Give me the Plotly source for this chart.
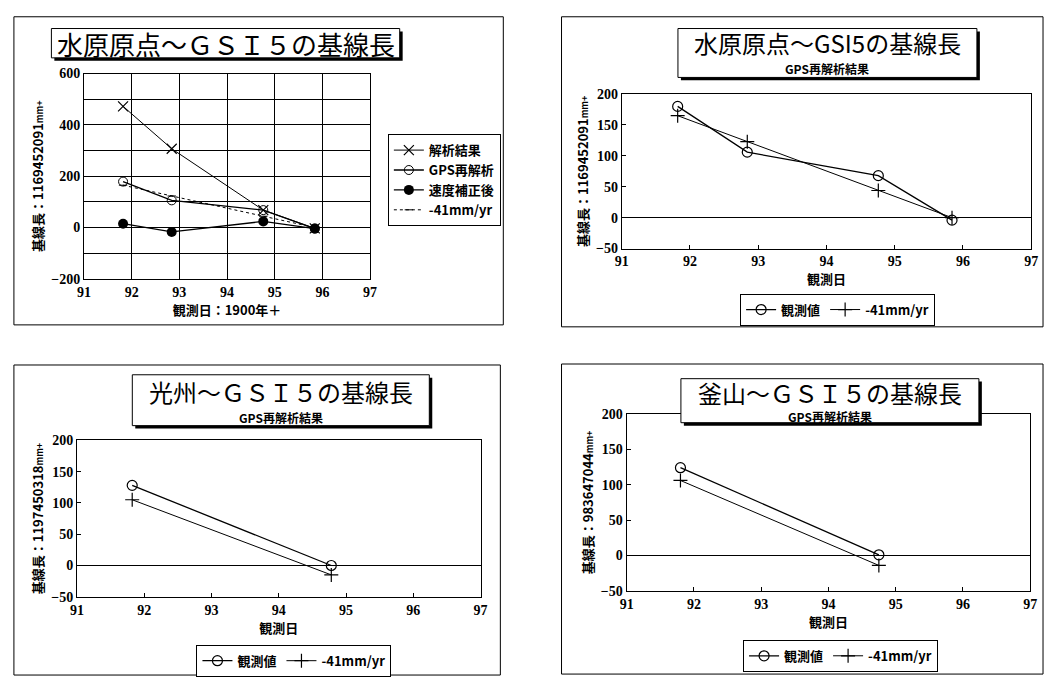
import plotly.graph_objects as go

W, H = 1052, 685

# ---------------- data ----------------
years_p1 = [91.82, 92.84, 94.76, 95.84]
analysis_p1 = [472, 307, 68, -3]
gps_p1 = [179, 106, 68, -4]
corrected_p1 = [15, -17, 24, -4]
trend_p1 = [165, 123, 44, 0]

years_p2 = [91.82, 92.84, 94.76, 95.84]
obs_p2 = [180, 106, 68, -4]
trend_p2 = [165, 123, 44, 0]

years_p3 = [91.82, 94.78]
obs_p3 = [128, 0]
trend_p3 = [105, -15]

years_p4 = [91.80, 94.75]
obs_p4 = [124, 1]
trend_p4 = [106, -14]

titles = ["水原原点～ＧＳＩ５の基線長", "水原原点～GSI5の基線長",
          "光州～ＧＳＩ５の基線長", "釜山～ＧＳＩ５の基線長"]
subtitle = "GPS再解析結果"
ytitles = ["基線長：1169452091<span style='font-size:9px'>mm+</span>",
           "基線長：1169452091<span style='font-size:9px'>mm+</span>",
           "基線長：1197450318<span style='font-size:9px'>mm+</span>",
           "基線長：983647044<span style='font-size:9px'>mm+</span>"]
xtitles = ["観測日：1900年＋", "観測日", "観測日", "観測日"]

# ---------------- helpers ----------------
def px(x):
    return x / W

def py(y):
    return 1 - y / H

JP = "Noto Sans CJK JP"
NUM = "Liberation Serif, DejaVu Serif, serif"
BLACK = "black"

fig = go.Figure()

# Panel 1 traces
fig.add_trace(go.Scatter(x=years_p1, y=analysis_p1, name="解析結果", mode="lines+markers",
                         line=dict(color=BLACK, width=1),
                         marker=dict(symbol="x-thin-open", size=10, color=BLACK, line=dict(width=1.2, color=BLACK)),
                         xaxis="x", yaxis="y", legend="legend"))
fig.add_trace(go.Scatter(x=years_p1, y=gps_p1, name="GPS再解析", mode="lines+markers",
                         line=dict(color=BLACK, width=1.3),
                         marker=dict(symbol="circle-open", size=9, color=BLACK, line=dict(width=1, color=BLACK)),
                         xaxis="x", yaxis="y", legend="legend"))
fig.add_trace(go.Scatter(x=years_p1, y=corrected_p1, name="速度補正後", mode="lines+markers",
                         line=dict(color=BLACK, width=1.3),
                         marker=dict(symbol="circle", size=10, color=BLACK),
                         xaxis="x", yaxis="y", legend="legend"))
fig.add_trace(go.Scatter(x=years_p1, y=trend_p1, name="-41mm/yr", mode="lines+markers",
                         line=dict(color=BLACK, width=1, dash="dot"),
                         marker=dict(symbol="line-ew-open", size=6, color=BLACK, line=dict(width=1, color=BLACK)),
                         xaxis="x", yaxis="y", legend="legend"))

panels = [(years_p2, obs_p2, trend_p2, "x2", "y2", "legend2"),
          (years_p3, obs_p3, trend_p3, "x3", "y3", "legend3"),
          (years_p4, obs_p4, trend_p4, "x4", "y4", "legend4")]
for xs, obs, tr, xa, ya, lg in panels:
    fig.add_trace(go.Scatter(x=xs, y=obs, name="観測値", mode="lines+markers",
                             line=dict(color=BLACK, width=1.3),
                             marker=dict(symbol="circle-open", size=10, color=BLACK, line=dict(width=1.2, color=BLACK)),
                             xaxis=xa, yaxis=ya, legend=lg))
    fig.add_trace(go.Scatter(x=xs, y=tr, name="-41mm/yr", mode="lines+markers",
                             line=dict(color=BLACK, width=1),
                             marker=dict(symbol="cross-thin-open", size=10, color=BLACK, line=dict(width=1.2, color=BLACK)),
                             xaxis=xa, yaxis=ya, legend=lg))

# ---------------- axes ----------------
def tickfont():
    return dict(family=NUM, size=14, color=BLACK, weight="bold")

def titlefont():
    return dict(family=JP, size=13, color=BLACK, weight="bold")

def xaxis(dom, ytick_anchor, title, grid=False):
    return dict(domain=dom, anchor=ytick_anchor, range=[91, 97], dtick=1, tick0=91,
                showline=True, linecolor=BLACK, linewidth=1, mirror=True,
                showgrid=grid, gridcolor=BLACK, gridwidth=1, zeroline=False,
                ticks="" if grid else "inside", ticklen=4, tickcolor=BLACK,
                tickfont=tickfont(), title=dict(text=title, font=titlefont(), standoff=2),
                fixedrange=True)

def yaxis(dom, xa, rng, dtick, title, grid=False):
    d = dict(domain=dom, anchor=xa, range=rng, dtick=dtick,
             showline=True, linecolor=BLACK, linewidth=1, mirror=True,
             showgrid=grid, gridcolor=BLACK, gridwidth=1,
             zeroline=True, zerolinecolor=BLACK, zerolinewidth=1,
             ticks="" if grid else "inside", ticklen=4, tickcolor=BLACK,
             tickfont=tickfont(), title=dict(text=title, font=titlefont(), standoff=4),
             fixedrange=True)
    if grid:
        d["minor"] = dict(dtick=dtick / 2, showgrid=True, gridcolor=BLACK, gridwidth=1)
    return d

layout = dict(
    width=W, height=H, margin=dict(l=0, r=0, t=0, b=0),
    paper_bgcolor="white", plot_bgcolor="white", showlegend=True,
    xaxis=xaxis([px(78), px(368)], "y", xtitles[0], grid=True),
    yaxis=yaxis([py(278), py(68)], "x", [-200, 600], 200, ytitles[0], grid=True),
    xaxis2=xaxis([px(623), px(1038)], "y2", xtitles[1]),
    yaxis2=yaxis([py(247), py(89)], "x2", [-50, 200], 50, ytitles[1]),
    xaxis3=xaxis([px(71), px(480)], "y3", xtitles[2]),
    yaxis3=yaxis([py(603), py(443)], "x3", [-50, 200], 50, ytitles[2]),
    xaxis4=xaxis([px(628), px(1037)], "y4", xtitles[3]),
    yaxis4=yaxis([py(597), py(416)], "x4", [-50, 200], 50, ytitles[3]),
)

legfont = dict(family=JP, size=13, color=BLACK, weight="bold")
layout["legend"] = dict(x=px(386), y=py(130), xanchor="left", yanchor="top",
                        bordercolor=BLACK, borderwidth=1, bgcolor="white",
                        font=legfont, itemwidth=30, tracegroupgap=2)
for name, (lx, ly) in zip(["legend2", "legend3", "legend4"], [(743, 293), (192, 652), (746, 647)]):
    layout[name] = dict(x=px(lx), y=py(ly), xanchor="left", yanchor="top", orientation="h",
                        bordercolor=BLACK, borderwidth=1, bgcolor="white",
                        font=dict(legfont), itemwidth=30)
fig.update_layout(**layout)

# ---------------- panel frames, title boxes ----------------
shapes = []
annotations = []
frames = [(7, 10, 503, 325), (562, 10, 1050, 327), (7, 366, 500, 683), (562, 365, 1050, 682)]
for x0, y0, x1, y1 in frames:
    shapes.append(dict(type="rect", xref="paper", yref="paper", x0=px(x0), x1=px(x1), y0=py(y1), y1=py(y0),
                       line=dict(color=BLACK, width=1), fillcolor="rgba(0,0,0,0)", layer="below"))

boxes = [(45, 22, 398, 52, 37, 26, None), (680, 22, 983, 72, 36, 24, 63),
         (127, 376, 428, 428, 393, 24, 420), (683, 380, 985, 425, 394, 24, 419)]
for i, (x0, y0, x1, y1, ty, tsize, sy) in enumerate(boxes):
    # shadow
    shapes.append(dict(type="rect", xref="paper", yref="paper", x0=px(x0 + 3), x1=px(x1 + 3),
                       y0=py(y1 + 3), y1=py(y0 + 3), line=dict(width=0), fillcolor=BLACK, layer="above"))
    shapes.append(dict(type="rect", xref="paper", yref="paper", x0=px(x0), x1=px(x1), y0=py(y1), y1=py(y0),
                       line=dict(color=BLACK, width=1), fillcolor="white", layer="above"))
    cx = (x0 + x1) / 2
    annotations.append(dict(text=titles[i], xref="paper", yref="paper", x=px(cx), y=py(ty),
                            xanchor="center", yanchor="middle", showarrow=False,
                            font=dict(family=JP, size=tsize, color=BLACK)))
    if sy is not None:
        st = f"<u>{subtitle}</u>" if i == 3 else subtitle
        annotations.append(dict(text=st, xref="paper", yref="paper", x=px(cx), y=py(sy),
                                xanchor="center", yanchor="middle", showarrow=False,
                                font=dict(family=JP, size=12, color=BLACK, weight="bold")))

fig.update_layout(shapes=shapes, annotations=annotations)

fig.write_html("out.html", config={"displayModeBar": False},
               post_script="document.body.style.margin='0';document.body.style.overflow='hidden';")
